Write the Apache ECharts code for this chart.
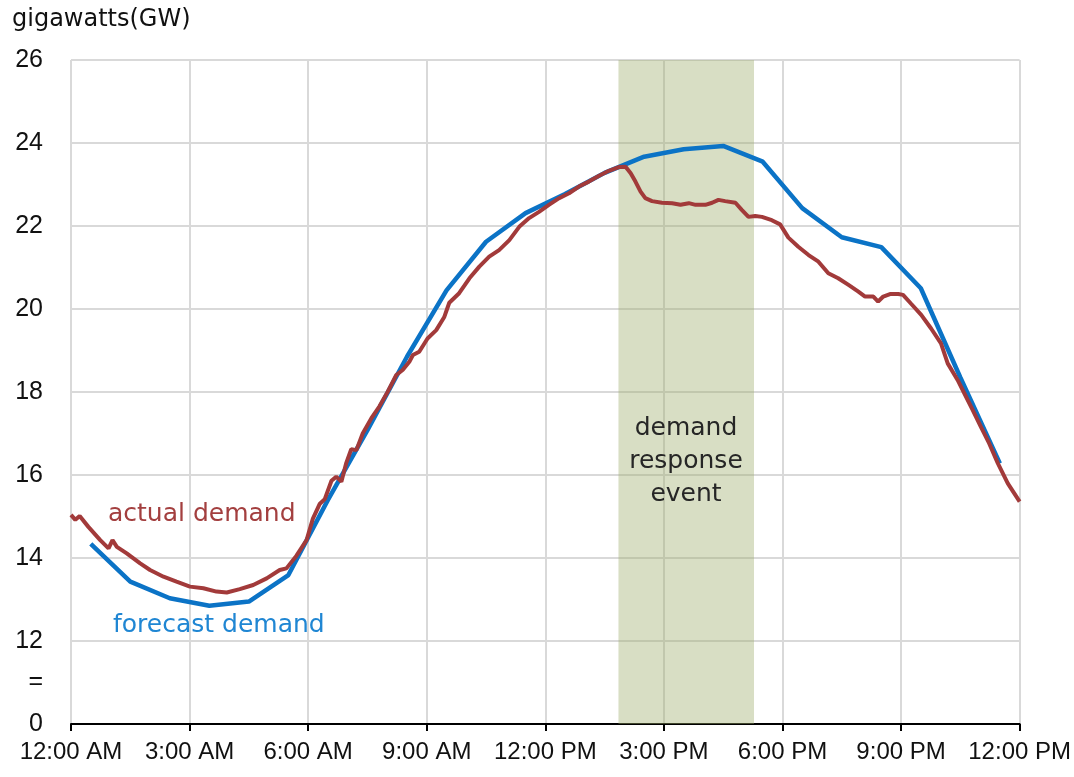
<!DOCTYPE html>
<html>
<head>
<meta charset="utf-8">
<script src="https://cdn.jsdelivr.net/npm/echarts@6/dist/echarts.min.js"></script>
<style>
  html, body { margin: 0; padding: 0; background: #fff; }
  #chart { width: 1074px; height: 777px; }
</style>
</head>
<body>
<div id="chart"></div>
<script>
// x in hours after midnight
const xTickLabels = ['12:00 AM', '3:00 AM', '6:00 AM', '9:00 AM', '12:00 PM', '3:00 PM', '6:00 PM', '9:00 PM', '12:00 PM']
// the axis is broken: the bottom tick (10) is labelled 0
const yTicks = [10, 11, 12, 14, 16, 18, 20, 22, 24, 26]
const yTickLabels = ['0', '=', '12', '14', '16', '18', '20', '22', '24', '26']

const forecastHours = [0.5, 1.5, 2.5, 3.5, 4.5, 5.5, 6.5, 7.5, 8.5, 9.5, 10.5, 11.5,
  12.5, 13.5, 14.5, 15.5, 16.5, 17.5, 18.5, 19.5, 20.5, 21.5, 22.5, 23.5]
const forecastValues = [14.34, 13.43, 13.03, 12.85, 12.95, 13.59, 15.4, 17.08, 18.85, 20.45, 21.62, 22.31,
  22.77, 23.28, 23.67, 23.85, 23.93, 23.55, 22.43, 21.73, 21.49, 20.5, 18.35, 16.28]

const actualHours = [0, 0.11, 0.22, 0.44, 0.74, 0.95, 1.05, 1.16, 1.41, 1.75, 2.0, 2.34,
  2.67, 3.01, 3.35, 3.68, 3.94, 4.27, 4.61, 4.95, 5.28, 5.45, 5.7, 5.96,
  6.12, 6.29, 6.42, 6.59, 6.71, 6.84, 6.96, 7.09, 7.22, 7.38, 7.6, 7.8,
  8.01, 8.23, 8.39, 8.56, 8.65, 8.81, 9.02, 9.24, 9.44, 9.57, 9.82, 10.08,
  10.33, 10.58, 10.83, 11.09, 11.34, 11.59, 11.84, 12.09, 12.35, 12.6, 12.85, 13.1,
  13.36, 13.61, 13.86, 14.03, 14.16, 14.28, 14.41, 14.53, 14.7, 14.95, 15.21, 15.42,
  15.63, 15.8, 16.05, 16.22, 16.38, 16.55, 16.81, 16.97, 17.14, 17.31, 17.48, 17.73,
  17.94, 18.15, 18.4, 18.66, 18.91, 19.16, 19.41, 19.67, 19.92, 20.09, 20.3, 20.42,
  20.55, 20.72, 20.93, 21.05, 21.26, 21.51, 21.76, 22.01, 22.18, 22.43, 22.6, 22.81,
  23.02, 23.23, 23.45, 23.7, 24.0]
const actualValues = [15.04, 14.92, 15.01, 14.75, 14.43, 14.23, 14.43, 14.27, 14.11, 13.87, 13.71, 13.55,
  13.43, 13.31, 13.27, 13.19, 13.17, 13.25, 13.35, 13.51, 13.71, 13.75, 14.05, 14.43,
  14.95, 15.3, 15.42, 15.86, 15.96, 15.84, 16.28, 16.62, 16.6, 17.0, 17.37, 17.65,
  18.0, 18.41, 18.53, 18.73, 18.89, 18.97, 19.29, 19.49, 19.8, 20.15, 20.38, 20.74,
  21.02, 21.26, 21.42, 21.66, 21.98, 22.19, 22.34, 22.51, 22.67, 22.79, 22.95, 23.07,
  23.21, 23.33, 23.42, 23.43, 23.27, 23.07, 22.83, 22.67, 22.6, 22.56, 22.55, 22.51,
  22.55, 22.51, 22.51, 22.56, 22.63, 22.6, 22.56, 22.39, 22.22, 22.24, 22.22, 22.14,
  22.04, 21.72, 21.5, 21.3, 21.14, 20.86, 20.74, 20.58, 20.42, 20.3, 20.3, 20.18,
  20.3, 20.36, 20.36, 20.34, 20.12, 19.86, 19.53, 19.17, 18.69, 18.29, 17.97, 17.57,
  17.16, 16.76, 16.28, 15.8, 15.36]

const eventStart = 13.85
const eventEnd = 17.28

const zip = (xs, ys) => xs.map((x, i) => [x, ys[i]])

const chart = echarts.init(document.getElementById('chart'))
const axisFont = 'Liberation Sans, Arial, sans-serif'

chart.setOption({
  backgroundColor: '#fff',
  animation: false,
  grid: {
    left: 71,
    right: 52,
    top: 60,
    bottom: 53,
  },
  xAxis: {
    type: 'value',
    min: 0,
    max: 24,
    interval: 3,
    axisLine: {
      lineStyle: { color: '#000', width: 2 },
    },
    axisTick: {
      length: 7,
      lineStyle: { color: '#000', width: 2 },
    },
    axisLabel: {
      margin: 16,
      color: '#111',
      fontFamily: axisFont,
      fontSize: 24,
      formatter: (v) => xTickLabels[Math.round(v / 3)],
    },
    splitLine: {
      lineStyle: { color: '#d9d9d9', width: 2 },
    },
  },
  yAxis: {
    type: 'value',
    min: 10,
    max: 26,
    interval: 2,
    axisLine: { show: false },
    axisTick: { show: false },
    axisLabel: {
      margin: 28,
      color: '#111',
      fontFamily: axisFont,
      fontSize: 25,
      customValues: yTicks,
      formatter: (v) => yTickLabels[yTicks.indexOf(v)],
    },
    splitLine: {
      lineStyle: { color: '#d9d9d9', width: 2 },
    },
  },
  graphic: [
    {
      type: 'text',
      z: 100,
      left: 12,
      top: 8,
      style: { text: 'gigawatts(GW)', fill: '#111', font: '24px DejaVu Sans, sans-serif' },
    },
    {
      type: 'text',
      z: 100,
      left: 108,
      top: 502,
      style: { text: 'actual demand', fill: '#a33f3f', font: '25px DejaVu Sans, sans-serif' },
    },
    {
      type: 'text',
      z: 100,
      left: 113,
      top: 613,
      style: { text: 'forecast demand', fill: '#1f86d3', font: '25px DejaVu Sans, sans-serif' },
    },
    {
      type: 'text',
      z: 100,
      x: 686,
      y: 412,
      style: {
        text: 'demand\nresponse\nevent',
        fill: '#262626',
        font: '25px DejaVu Sans, sans-serif',
        align: 'center',
        lineHeight: 33,
      },
    },
  ],
  series: [
    {
      name: 'forecast demand',
      type: 'line',
      showSymbol: false,
      data: zip(forecastHours, forecastValues),
      lineStyle: { color: '#0b73c6', width: 4.5 },
      markArea: {
        silent: true,
        itemStyle: { color: 'rgba(157,172,107,0.4)' },
        data: [[{ xAxis: eventStart }, { xAxis: eventEnd }]],
      },
    },
    {
      name: 'actual demand',
      type: 'line',
      showSymbol: false,
      data: zip(actualHours, actualValues),
      lineStyle: { color: '#a23a3a', width: 4 },
    },
  ],
})
</script>
</body>
</html>
